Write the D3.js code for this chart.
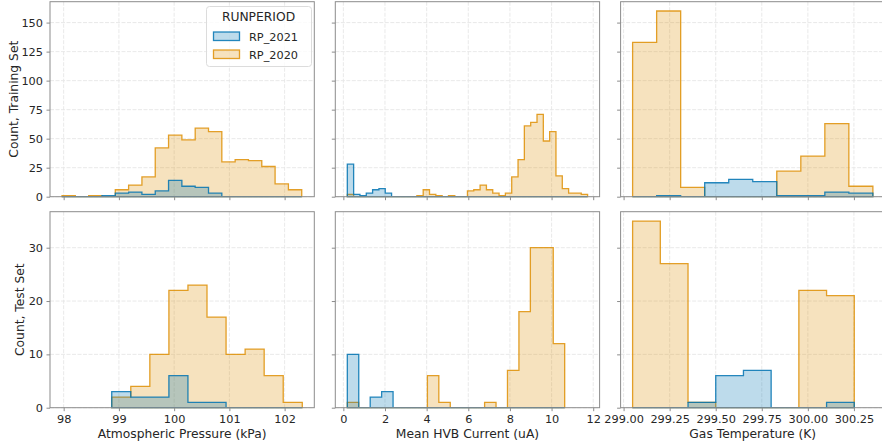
<!DOCTYPE html>
<html>
<head>
<meta charset="utf-8">
<title>Run period histograms</title>
<script src="https://cdn.jsdelivr.net/npm/d3@7"></script>
<style>
  body { margin: 0; background: #fff; }
  svg { font-family: 'DejaVu Sans', sans-serif; display: block; }
  .tick text { fill: #262626; font-size: 11.3px; font-family: 'DejaVu Sans', sans-serif; }
  .tick line { stroke: #8c8c8c; }
  .label { fill: #262626; font-size: 12.3px; }
</style>
</head>
<body>
<script>
  const runPeriods = ['RP_2021', 'RP_2020'];
  const colors = ['#0173b2', '#de8f05'];
  const featureLabels = ['Atmospheric Pressure (kPa)', 'Mean HVB Current (uA)', 'Gas Temperature (K)'];
  const setLabels = ['Count, Training Set', 'Count, Test Set'];

  // each histogram: [first edge, last edge] + counts per equal-width bin
  const pressureTrainEdges = [97.97, 102.31];
  const pressureTrain2021 = [0, 0, 0, 1, 3, 4, 2, 5, 14, 9, 8, 3, 0, 0, 0, 0, 0, 0];
  const pressureTrain2020 = [1, 0, 1, 0, 6, 10, 17, 42, 53, 49, 59, 56, 30, 32, 31, 26, 11, 6];
  const pressureTestEdges = [98.87, 102.32];
  const pressureTest2021 = [3, 2, 2, 6, 1, 1, 0, 0, 0, 0];
  const pressureTest2020 = [2, 4, 10, 22, 23, 17, 10, 11, 6, 1];

  const currentTrainEdges = [0.19, 11.73];
  const currentTrain2021 = [28, 2, 1, 3, 6, 7, 3, 0, 0, 0, 0, 0, 0, 0, 0, 0, 0, 0, 0,
    0, 0, 0, 0, 0, 0, 0, 0, 0, 0, 0, 0, 0, 0, 0, 0, 0, 0, 0];
  const currentTrain2020 = [2, 0, 0, 0, 0, 0, 0, 0, 0, 0, 0, 1, 6, 2, 1, 0, 1, 0, 0,
    5, 6, 10, 6, 3, 1, 3, 17, 32, 61, 64, 71, 48, 56, 18, 7, 3, 3, 2];
  const currentTestEdges = [0.19, 10.63];
  const currentTest2021 = [10, 0, 2, 3, 0, 0, 0, 0, 0, 0, 0, 0, 0, 0, 0, 0, 0, 0, 0];
  const currentTest2020 = [1, 0, 0, 0, 0, 0, 0, 6, 1, 0, 0, 0, 1, 0, 7, 18, 30, 30, 12];

  const temperatureTrainEdges = [299.049, 300.353];
  const temperatureTrain2021 = [0, 1, 0, 12, 15, 13, 1, 1, 4, 3];
  const temperatureTrain2020 = [133, 160, 8, 0, 0, 0, 22, 35, 63, 9];
  const temperatureTestEdges = [299.049, 300.252];
  const temperatureTest2021 = [0, 0, 1, 6, 7, 0, 0, 1];
  const temperatureTest2020 = [35, 27, 1, 0, 0, 0, 22, 21];

  const yTicksTrain = [0, 25, 50, 75, 100, 125, 150];
  const yTicksTest = [0, 10, 20, 30];
  const pressureTicks = [98, 99, 100, 101, 102];
  const currentTicks = [0, 2, 4, 6, 8, 10, 12];
  const temperatureTicks = [299.00, 299.25, 299.50, 299.75, 300.00, 300.25];

  const width = 882, height = 444;
  const colX = [50, 335.3, 620.6], panelW = 264.3;
  const rowY = [1.7, 211.7], panelH = [195, 196];

  const columns = [
    { ticks: pressureTicks, fmt: d3.format('d'), hists: [
      { edges: pressureTrainEdges, counts: [pressureTrain2021, pressureTrain2020] },
      { edges: pressureTestEdges, counts: [pressureTest2021, pressureTest2020] }] },
    { ticks: currentTicks, fmt: d3.format('d'), hists: [
      { edges: currentTrainEdges, counts: [currentTrain2021, currentTrain2020] },
      { edges: currentTestEdges, counts: [currentTest2021, currentTest2020] }] },
    { ticks: temperatureTicks, fmt: d3.format('.2f'), hists: [
      { edges: temperatureTrainEdges, counts: [temperatureTrain2021, temperatureTrain2020] },
      { edges: temperatureTestEdges, counts: [temperatureTest2021, temperatureTest2020] }] }
  ];
  const rowTicks = [yTicksTrain, yTicksTest];

  const svg = d3.select('body').append('svg')
    .attr('width', width)
    .attr('height', height);

  // shared y per row (matplotlib-like 5% headroom)
  const yScales = [0, 1].map(r => {
    const maxCount = d3.max(columns, c => d3.max(c.hists[r].counts, arr => d3.max(arr)));
    return d3.scaleLinear().domain([0, maxCount * 1.05]).range([rowY[r] + panelH[r], rowY[r]]);
  });

  // shared x per column, 5% margin on data range
  const xScales = columns.map((c, ci) => {
    const lo = d3.min(c.hists, h => h.edges[0]);
    const hi = d3.max(c.hists, h => h.edges[1]);
    const pad = (hi - lo) * 0.05;
    return d3.scaleLinear().domain([lo - pad, hi + pad]).range([colX[ci], colX[ci] + panelW]);
  });

  columns.forEach((col, ci) => {
    const x = xScales[ci];
    [0, 1].forEach(r => {
      const y = yScales[r];
      const g = svg.append('g');
      const top = rowY[r], bottom = rowY[r] + panelH[r];

      // grid
      g.append('g').selectAll('line').data(col.ticks).join('line')
        .attr('x1', d => x(d)).attr('x2', d => x(d))
        .attr('y1', top).attr('y2', bottom)
        .attr('stroke', '#e6e6e6').attr('stroke-width', 0.9).attr('stroke-dasharray', '4,1.5');
      g.append('g').selectAll('line').data(rowTicks[r]).join('line')
        .attr('x1', colX[ci]).attr('x2', colX[ci] + panelW)
        .attr('y1', d => y(d)).attr('y2', d => y(d))
        .attr('stroke', '#e6e6e6').attr('stroke-width', 0.9).attr('stroke-dasharray', '4,1.5');

      // histograms, RP_2020 underneath, RP_2021 on top
      const hist = col.hists[r];
      const n = hist.counts[0].length;
      const step = (hist.edges[1] - hist.edges[0]) / n;
      const area = d3.area()
        .curve(d3.curveStepAfter)
        .x(d => x(d[0]))
        .y0(y(0))
        .y1(d => y(d[1]));
      [1, 0].forEach(k => {
        const counts = hist.counts[k];
        const pts = counts.map((c, i) => [hist.edges[0] + i * step, c]);
        pts.push([hist.edges[1], counts[n - 1]]);
        g.append('path')
          .attr('d', area(pts))
          .attr('fill', colors[k]).attr('fill-opacity', 0.26)
          .attr('stroke', colors[k]).attr('stroke-opacity', 0.85)
          .attr('stroke-width', 1.3).attr('stroke-linejoin', 'miter');
      });

      // axes
      const xAxis = d3.axisBottom(x).tickValues(col.ticks).tickSize(3.5).tickPadding(3.5)
        .tickFormat(r === 1 ? col.fmt : () => '');
      g.append('g').attr('transform', `translate(0,${bottom})`).call(xAxis)
        .call(a => a.select('.domain').remove())
        .attr('font-family', null).attr('font-size', null);
      const yAxis = d3.axisLeft(y).tickValues(rowTicks[r]).tickSize(3.5).tickPadding(3.5)
        .tickFormat(ci === 0 ? d3.format('d') : () => '');
      g.append('g').attr('transform', `translate(${colX[ci]},0)`).call(yAxis)
        .call(a => a.select('.domain').remove())
        .attr('font-family', null).attr('font-size', null);

      // spines
      g.append('rect')
        .attr('x', colX[ci]).attr('y', top).attr('width', panelW).attr('height', panelH[r])
        .attr('fill', 'none').attr('stroke', '#8c8c8c').attr('stroke-width', 1);
    });

    svg.append('text').attr('class', 'label')
      .attr('x', colX[ci] + panelW / 2).attr('y', 437.5)
      .attr('text-anchor', 'middle')
      .text(featureLabels[ci]);
  });

  // y labels
  [[13.5, 0], [20, 1]].forEach(([lx, r]) => {
    svg.append('text').attr('class', 'label')
      .attr('transform', `translate(${lx + 4},${rowY[r] + panelH[r] / 2}) rotate(-90)`)
      .attr('text-anchor', 'middle')
      .text(setLabels[r]);
  });

  // legend
  const legend = svg.append('g').attr('transform', 'translate(206.5,6.5)');
  legend.append('rect')
    .attr('width', 105).attr('height', 60).attr('rx', 3)
    .attr('fill', '#fff').attr('fill-opacity', 0.8)
    .attr('stroke', '#dcdcdc').attr('stroke-width', 1);
  legend.append('text').attr('class', 'label')
    .attr('x', 52).attr('y', 14.5).attr('text-anchor', 'middle')
    .text('RUNPERIOD');
  runPeriods.forEach((p, i) => {
    const ly = 25.5 + i * 18;
    legend.append('rect')
      .attr('x', 7).attr('y', ly).attr('width', 26).attr('height', 8.5)
      .attr('fill', colors[i]).attr('fill-opacity', 0.26)
      .attr('stroke', colors[i]).attr('stroke-opacity', 0.85).attr('stroke-width', 1.3);
    legend.append('text')
      .attr('x', 42.5).attr('y', ly + 8.5)
      .attr('fill', '#262626').attr('font-size', '11.3px')
      .text(p);
  });
</script>
</body>
</html>
